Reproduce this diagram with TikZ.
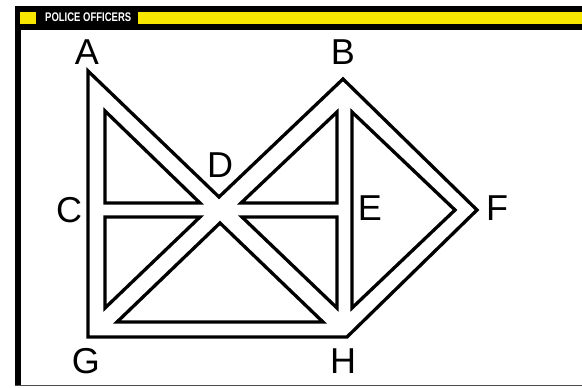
\documentclass[tikz,border=0pt]{standalone}
\usepackage{fontspec}
\setmainfont{Liberation Sans}
\definecolor{hdryellow}{RGB}{247,231,0}

\begin{document}
\begin{tikzpicture}[x=1pt,y=-1pt,line join=miter,
  wall/.style={line width=3.3pt},
  lbl/.style={font=\fontsize{36}{36}\selectfont,inner sep=0pt}]
\useasboundingbox (0,0) rectangle (582,388);
\fill[white] (0,0) rectangle (582,388);
% frame and header
\fill[black] (15,6) rectangle (582,29.5);
\fill[black] (15,6) rectangle (21,386);
\draw[black!70,line width=1pt] (15,385.5) -- (582,385.5);
\fill[hdryellow] (20,12) rectangle (36,23.5);
\fill[hdryellow] (138,12) rectangle (582,23.5);
\node[anchor=west,text=white,font=\bfseries\fontsize{12.5}{12.5}\selectfont,inner sep=0pt] (title) at (45,17.4) {\scalebox{0.76}[1]{POLICE OFFICERS}};
% outline
\draw[wall] (88,71) -- (219,197) -- (343,79) -- (477,210) -- (347,337) -- (88,337) -- cycle;
% inner blocks
\draw[wall] (105,111) -- (105,203) -- (200,203) -- cycle;
\draw[wall] (105,217) -- (200,217) -- (105,308) -- cycle;
\draw[wall] (220,223) -- (117,322) -- (323,322) -- cycle;
\draw[wall] (242,217) -- (337,217) -- (337,308) -- cycle;
\draw[wall] (241,203) -- (337,203) -- (337,112) -- cycle;
\draw[wall] (352,112) -- (455,210) -- (352,308) -- cycle;
% labels
\node[lbl] (A) at (87,52) {A};
\node[lbl] (B) at (343,52) {B};
\node[lbl] (C) at (69,210) {C};
\node[lbl] (D) at (220,165) {D};
\node[lbl] (E) at (370,208) {E};
\node[lbl] (F) at (497,208) {F};
\node[lbl] (G) at (86,361) {G};
\node[lbl] (H) at (343,361) {H};
\end{tikzpicture}
\end{document}
